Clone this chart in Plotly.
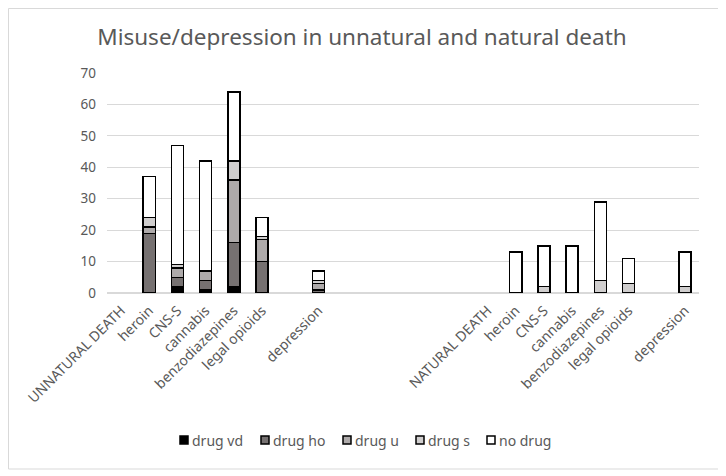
import plotly.graph_objects as go

# category slots along the x axis (blank slots are gaps in the original chart)
categories = ["UNNATURAL DEATH", "heroin", "CNS-S", "cannabis", "benzodiazepines",
              "legal opioids", "", "depression", "", "", "", "", "",
              "NATURAL DEATH", "heroin", "CNS-S", "cannabis", "benzodiazepines",
              "legal opioids", "", "depression"]

drug_vd = [0, 0, 2, 1, 2, 0, 0, 0, 0, 0, 0, 0, 0, 0, 0, 0, 0, 0, 0, 0, 0]
drug_ho = [0, 19, 3, 3, 14, 10, 0, 1, 0, 0, 0, 0, 0, 0, 0, 0, 0, 0, 0, 0, 0]
drug_u = [0, 2, 3, 3, 20, 7, 0, 2, 0, 0, 0, 0, 0, 0, 0, 0, 0, 0, 0, 0, 0]
drug_s = [0, 3, 1, 0, 6, 1, 0, 1, 0, 0, 0, 0, 0, 0, 0, 2, 0, 4, 3, 0, 2]
no_drug = [0, 13, 38, 35, 22, 6, 0, 3, 0, 0, 0, 0, 0, 0, 13, 13, 15, 25, 8, 0, 11]

series = [
    ("drug vd", drug_vd, "#000000"),
    ("drug ho", drug_ho, "#767171"),
    ("drug u", drug_u, "#AEAAAA"),
    ("drug s", drug_s, "#D0CECE"),
    ("no drug", no_drug, "#FFFFFF"),
]

xpos = list(range(len(categories)))

# figure geometry (px); page body has an 8px margin so the figure is 8px smaller
W, H = 718, 468
L, R, T, B = 99, 27, 65, 183
PW, PH = W - L - R, H - T - B


def px(x):
    return (x - L) / PW


def py(y):
    return (H - B - y) / PH


fig = go.Figure()
for name, vals, col in series:
    # zero counts get no mark at all (otherwise plotly draws a flat outline)
    fig.add_trace(go.Bar(
        x=xpos, y=[v if v else None for v in vals], name=name,
        marker=dict(color=col, line=dict(color="#000000", width=1.5)),
        showlegend=False,
    ))

grey = "#595959"
fig.update_layout(
    barmode="stack",
    bargap=0.57,
    width=W, height=H,
    margin=dict(l=L, r=R, t=T, b=B),
    plot_bgcolor="white", paper_bgcolor="white",
    font=dict(family="Noto Sans", color=grey, size=13),
    title=dict(text="Misuse/depression in unnatural and natural death",
               x=0.493, xanchor="center", y=0.938, yanchor="middle",
               font=dict(size=22.5, color=grey)),
)
fig.update_xaxes(
    tickmode="array", tickvals=xpos, ticktext=categories,
    tickangle=-45, range=[-0.5, len(categories) - 0.5],
    showgrid=False, showline=True, linecolor="#D9D9D9", linewidth=1,
    ticks="", tickfont=dict(size=14, color=grey), ticklabelstandoff=3,
)
fig.update_yaxes(
    range=[0, 70], dtick=10, showgrid=True, gridcolor="#D9D9D9", gridwidth=1,
    zeroline=True, zerolinecolor="#D9D9D9", showline=False,
    tickfont=dict(size=13.5, color=grey), ticks="", ticklabelstandoff=10,
)

# legend row drawn by hand so the entries sit as tightly as in the original
leg_x = [172, 253, 335, 408, 479]
leg_y = 432
for (name, vals, col), lx in zip(series, leg_x):
    fig.add_shape(type="rect", xref="paper", yref="paper",
                  x0=px(lx), x1=px(lx + 8), y0=py(leg_y + 4), y1=py(leg_y - 4),
                  fillcolor=col, line=dict(color="#000000", width=1.5))
    fig.add_annotation(xref="paper", yref="paper", x=px(lx + 10), y=py(leg_y),
                       text=name, showarrow=False, xanchor="left", yanchor="middle",
                       font=dict(size=14, color=grey))

# light frame round the whole chart
fig.add_shape(type="rect", xref="paper", yref="paper",
              x0=px(0.5), x1=px(711), y0=py(461), y1=py(0.5),
              line=dict(color="#D9D9D9", width=1), fillcolor="rgba(0,0,0,0)")

fig.write_html("out.html")
